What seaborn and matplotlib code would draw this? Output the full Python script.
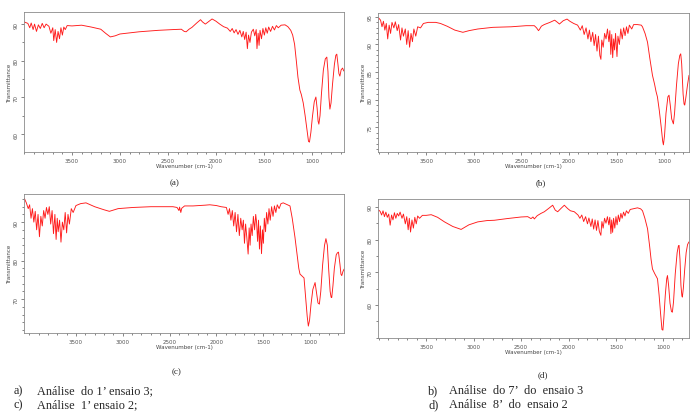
import numpy as np
import pandas as pd
import seaborn as sns
import matplotlib.pyplot as plt
from matplotlib.ticker import MultipleLocator, FixedLocator

# --- Espectro (a): 1' ensaio 3 ---
wn_a = [4000, 3960, 3940, 3925, 3905, 3890, 3870, 3850, 3830, 3810, 3790, 3770, 3740, 3720,
        3700, 3690, 3675, 3660, 3645, 3630, 3615, 3600, 3585, 3570, 3550, 3500, 3400, 3300,
        3200, 3150, 3100, 3050, 3000, 2900, 2800, 2600, 2450, 2360, 2330, 2310, 2280, 2250,
        2200, 2160, 2140, 2110, 2080, 2040, 2000, 1960, 1920, 1880, 1850, 1830, 1810, 1790,
        1770, 1750, 1730, 1715, 1700, 1685, 1672, 1660, 1645, 1630, 1610, 1595, 1580, 1572,
        1560, 1550, 1540, 1525, 1510, 1495, 1480, 1465, 1450, 1430, 1410, 1390, 1370, 1350,
        1320, 1280, 1250, 1220, 1200, 1180, 1160, 1145, 1125, 1110, 1090, 1070, 1050, 1035,
        1025, 1010, 995, 975, 958, 945, 935, 927, 915, 900, 880, 860, 844, 832, 822, 812,
        800, 785, 765, 750, 740, 728, 718, 708, 695, 680, 667]
t_a = [90.6, 90.2, 89.0, 90.3, 88.5, 90.0, 88.0, 89.8, 88.8, 90.2, 89.0, 90.0, 89.4, 87.5,
       89.0, 85.5, 88.5, 85.0, 88.0, 86.0, 89.0, 87.0, 89.2, 88.5, 89.6, 89.5, 89.7, 89.2,
       88.6, 87.5, 86.5, 86.8, 87.3, 87.6, 87.9, 88.3, 88.5, 88.6, 88.0, 87.9, 88.6, 89.1,
       90.3, 91.2, 90.6, 90.0, 90.6, 91.4, 90.8, 90.0, 89.3, 88.9, 88.0, 88.8, 87.6, 88.5,
       87.2, 88.3, 86.5, 88.0, 85.8, 87.8, 83.3, 87.0, 85.0, 87.8, 88.6, 86.8, 88.5, 83.3,
       87.5, 84.2, 88.3, 86.0, 88.8, 87.0, 89.0, 87.5, 89.2, 88.0, 89.4, 88.4, 89.6, 89.0,
       89.7, 89.8, 89.3, 88.3, 87.0, 84.5, 79.5, 75.5, 72.0, 70.8, 68.5, 65.0, 61.0, 58.0,
       57.8, 60.5, 64.5, 68.8, 70.1, 67.0, 63.5, 62.7, 65.0, 71.0, 77.5, 80.5, 81.0, 77.0,
       70.0, 66.8, 68.5, 73.5, 79.0, 81.5, 81.8, 79.0, 76.5, 75.8, 77.5, 78.0, 77.2]

# --- Espectro (b): 7' do ensaio 3 ---
wn_b = [4000, 3980, 3965, 3950, 3935, 3920, 3905, 3890, 3875, 3860, 3840, 3825, 3805, 3790,
        3770, 3755, 3740, 3720, 3705, 3690, 3675, 3660, 3645, 3630, 3610, 3590, 3560, 3530,
        3480, 3400, 3350, 3280, 3200, 3115, 3050, 2958, 2800, 2608, 2450, 2364, 2340, 2320,
        2311, 2290, 2260, 2200, 2150, 2120, 2100, 2060, 2020, 1990, 1950, 1909, 1880, 1860,
        1840, 1820, 1800, 1785, 1769, 1750, 1735, 1720, 1705, 1690, 1675, 1664, 1655, 1640,
        1625, 1610, 1595, 1580, 1570, 1560, 1550, 1540, 1530, 1520, 1510, 1495, 1485, 1470,
        1455, 1440, 1425, 1410, 1395, 1380, 1365, 1340, 1320, 1280, 1240, 1227, 1200, 1174,
        1150, 1122, 1100, 1085, 1070, 1050, 1030, 1015, 1007, 995, 980, 960, 948, 935, 920,
        902, 890, 870, 850, 835, 825, 815, 800, 790, 783, 770, 755, 738]
t_b = [94.8, 94.4, 93.2, 94.2, 92.6, 93.8, 91.0, 93.5, 92.0, 94.0, 93.0, 94.1, 92.5, 93.6,
       90.8, 93.0, 91.5, 92.8, 90.0, 92.5, 89.5, 92.0, 90.5, 92.8, 91.5, 93.2, 93.0, 93.8,
       94.0, 94.0, 93.8, 93.3, 92.6, 92.2, 92.5, 92.8, 93.1, 93.2, 93.4, 93.4, 93.0, 92.5,
       92.7, 93.3, 93.6, 94.0, 94.4, 94.0, 93.7, 94.3, 94.6, 94.2, 93.8, 93.5, 92.6, 93.4,
       91.8, 93.0, 91.0, 92.6, 90.5, 92.2, 89.8, 91.8, 88.8, 91.5, 88.0, 87.3, 90.8, 89.5,
       92.0, 91.0, 92.8, 90.5, 92.5, 88.2, 91.8, 87.6, 91.0, 89.0, 92.0, 87.8, 91.5, 90.0,
       92.8, 91.0, 93.0, 91.6, 93.2, 92.0, 93.5, 92.8, 93.6, 93.6, 93.5, 93.2, 92.0, 90.4,
       87.5, 84.4, 82.8, 81.5, 80.5, 78.0, 75.0, 72.5, 71.8, 73.5, 77.5, 80.5, 80.8, 79.0,
       76.5, 75.6, 77.5, 82.5, 86.5, 88.0, 88.3, 86.5, 81.0, 79.2, 79.0, 80.5, 82.5, 84.4]

# --- Espectro (c): 1' ensaio 2 ---
wn_c = [4050, 4030, 4010, 3995, 3980, 3965, 3950, 3935, 3920, 3905, 3890, 3875, 3860, 3845,
        3830, 3815, 3800, 3785, 3770, 3755, 3740, 3725, 3712, 3700, 3690, 3675, 3660, 3645,
        3630, 3615, 3600, 3585, 3570, 3550, 3530, 3500, 3450, 3393, 3300, 3200, 3143, 3050,
        2893, 2700, 2464, 2420, 2400, 2393, 2380, 2370, 2340, 2250, 2179, 2120, 2071, 2000,
        1950, 1893, 1875, 1860, 1845, 1830, 1815, 1800, 1785, 1770, 1755, 1740, 1725, 1712,
        1700, 1688, 1675, 1661, 1650, 1640, 1630, 1618, 1605, 1592, 1580, 1571, 1560, 1550,
        1540, 1530, 1518, 1508, 1498, 1488, 1475, 1464, 1450, 1438, 1425, 1410, 1395, 1380,
        1365, 1350, 1330, 1310, 1286, 1250, 1214, 1190, 1161, 1140, 1120, 1107, 1085, 1064,
        1045, 1030, 1018, 1005, 990, 970, 946, 930, 915, 900, 885, 865, 845, 830, 815, 800,
        785, 775, 768, 755, 740, 720, 708, 696, 680, 670, 661, 648, 636]
t_c = [96.1, 95.0, 93.5, 94.5, 91.0, 93.5, 90.0, 92.8, 88.0, 92.0, 86.2, 91.5, 89.0, 93.0,
       91.0, 93.8, 92.0, 94.0, 89.5, 93.0, 87.0, 92.0, 85.5, 91.0, 87.5, 90.5, 84.8, 90.0,
       88.0, 92.5, 87.2, 92.0, 89.5, 93.5, 92.5, 94.3, 94.8, 95.0, 94.0, 93.2, 92.8, 93.5,
       93.8, 94.0, 94.0, 93.8, 93.0, 93.9, 92.5, 93.6, 94.2, 94.2, 94.3, 94.4, 94.5, 94.3,
       94.0, 93.8, 92.0, 93.5, 90.5, 93.0, 89.0, 92.5, 87.5, 92.0, 86.5, 91.0, 88.0, 90.5,
       84.5, 89.5, 86.0, 81.7, 88.5, 84.0, 89.5, 86.5, 91.5, 88.0, 92.0, 90.0, 85.0, 90.5,
       83.0, 89.0, 81.8, 88.0, 84.5, 91.0, 87.5, 92.5, 89.5, 93.5, 90.5, 94.0, 91.5, 94.2,
       92.5, 94.5, 93.5, 94.8, 95.0, 94.6, 94.2, 91.0, 86.1, 82.0, 78.0, 76.5, 76.0, 75.5,
       70.0, 65.5, 63.0, 64.5, 68.5, 72.5, 74.3, 71.5, 69.0, 68.7, 72.0, 79.0, 84.0, 85.7,
       84.0, 77.5, 72.0, 70.5, 70.4, 73.5, 78.0, 81.5, 82.0, 82.2, 79.0, 76.5, 76.1, 77.2,
       77.8]

# --- Espectro (d): 8' do ensaio 2 ---
wn_d = [4000, 3985, 3970, 3955, 3940, 3925, 3910, 3895, 3880, 3865, 3850, 3835, 3820, 3805,
        3790, 3775, 3755, 3740, 3720, 3705, 3690, 3678, 3665, 3650, 3635, 3620, 3605, 3590,
        3570, 3540, 3500, 3447, 3380, 3307, 3220, 3132, 3050, 2957, 2860, 2781, 2650, 2500,
        2430, 2395, 2375, 2360, 2330, 2290, 2255, 2210, 2167, 2140, 2114, 2080, 2044, 2010,
        1980, 1939, 1900, 1880, 1860, 1840, 1820, 1800, 1785, 1764, 1750, 1735, 1720, 1705,
        1690, 1675, 1659, 1648, 1635, 1620, 1605, 1590, 1575, 1565, 1553, 1545, 1535, 1525,
        1512, 1500, 1488, 1475, 1462, 1448, 1435, 1420, 1405, 1390, 1370, 1350, 1320, 1273,
        1240, 1220, 1195, 1167, 1145, 1130, 1115, 1090, 1062, 1045, 1030, 1015, 1005, 995,
        980, 965, 957, 945, 930, 915, 905, 893, 875, 855, 842, 835, 825, 815, 805, 800, 790,
        775, 760, 745, 730]
t_d = [89.0, 88.6, 87.5, 88.8, 87.0, 88.4, 86.8, 87.8, 84.4, 87.5, 86.0, 88.2, 86.5, 88.0,
       87.2, 88.4, 86.5, 87.8, 84.8, 87.0, 83.0, 86.5, 82.3, 86.0, 83.5, 86.8, 84.8, 87.2,
       86.5, 87.4, 87.4, 87.6, 86.8, 85.4, 84.0, 83.1, 84.5, 85.4, 85.8, 85.9, 86.4, 86.9,
       87.0, 86.4, 86.9, 86.3, 87.3, 88.0, 88.5, 89.5, 90.5, 89.0, 88.5, 89.5, 90.5, 89.5,
       88.8, 88.5, 87.5, 86.5, 87.5, 85.5, 87.0, 84.8, 86.6, 84.0, 86.3, 83.2, 86.0, 82.8,
       85.8, 82.5, 81.3, 85.5, 83.5, 86.5, 85.0, 87.0, 84.5, 86.8, 81.8, 86.0, 82.2, 86.5,
       83.5, 87.0, 84.5, 87.5, 85.5, 88.0, 86.5, 88.4, 87.2, 88.8, 88.0, 89.2, 89.4, 89.7,
       89.4, 88.8, 86.5, 83.3, 78.0, 74.0, 71.0, 69.5, 68.0, 63.0, 57.5, 52.5, 52.3, 56.0,
       63.0, 68.0, 69.0, 66.0, 60.5, 58.0, 57.8, 61.0, 69.5, 76.0, 78.0, 78.2, 74.0, 66.0,
       62.8, 62.4, 65.0, 71.0, 76.0, 78.5, 79.3]

x_ticks = [3500, 3000, 2500, 2000, 1500, 1000]
y_ticks_a = [60, 70, 80, 90]
y_ticks_b = [75, 80, 85, 90, 95]
y_ticks_c = [70, 80, 90]
y_ticks_d = [60, 70, 80, 90]

panel_labels = ["(a)", "(b)", "(c)", "(d)"]
legend_left = [("a)", "Análise  do 1’ ensaio 3;"), ("c)", "Análise  1’ ensaio 2;")]
legend_right = [("b)", "Análise  do 7’  do  ensaio 3"), ("d)", "Análise  8’  do  ensaio 2")]

sns.set_style("ticks")
plt.rcParams["font.family"] = ["DejaVu Sans"]

fig = plt.figure(figsize=(6.9, 4.14), dpi=100)

W, H = 690, 414
def box(l, t, r, b):
    return [l / W, 1 - b / H, (r - l) / W, (b - t) / H]

panels = [
    (wn_a, t_a, box(24, 13, 344, 153), (4000, 665), (55.1, 93.3), y_ticks_a, 5),
    (wn_b, t_b, box(378, 14, 689, 153), (4007, 738), (70.5, 95.7), y_ticks_b, 1),
    (wn_c, t_c, box(24, 195, 344, 334), (4055, 637), (61.2, 97.3), y_ticks_c, 2),
    (wn_d, t_d, box(378, 200, 689, 339), (4008, 730), (49.9, 92.4), y_ticks_d, 5),
]

for wn, tr, rect, xl, yl, yt, ymin in panels:
    ax = fig.add_axes(rect)
    df = pd.DataFrame({"wn": wn, "T": tr})
    sns.lineplot(data=df, x="wn", y="T", ax=ax, color="#ff1a1a", lw=0.65,
                 estimator=None, sort=False)
    ax.set_xlim(*xl)
    ax.set_ylim(*yl)
    ax.xaxis.set_major_locator(FixedLocator(x_ticks))
    ax.xaxis.set_minor_locator(MultipleLocator(100))
    ax.yaxis.set_major_locator(FixedLocator(yt))
    ax.yaxis.set_minor_locator(MultipleLocator(ymin))
    ax.tick_params(which="both", direction="out", colors="#555555", labelsize=4,
                   width=0.5, pad=1.5)
    ax.tick_params(which="major", length=2.5)
    ax.tick_params(which="minor", length=1.5)
    for lab in ax.get_yticklabels():
        lab.set_rotation(90)
        lab.set_va("center")
    for s in ax.spines.values():
        s.set_color("#8a8a8a")
        s.set_linewidth(0.6)
    ax.set_xlabel("Wavenumber (cm-1)", fontsize=4, color="#444444", labelpad=0.5)
    ax.set_ylabel("Transmittance", fontsize=4, color="#444444", labelpad=1)

serif = ["Liberation Serif", "DejaVu Serif"]
fig.text(175 / W, 1 - 183 / H, panel_labels[0], family=serif, fontsize=6.5, ha="center", va="center")
fig.text(541 / W, 1 - 183 / H, panel_labels[1], family=serif, fontsize=6.5, ha="center", va="center")
fig.text(177 / W, 1 - 372 / H, panel_labels[2], family=serif, fontsize=6.5, ha="center", va="center")
fig.text(543 / W, 1 - 375 / H, panel_labels[3], family=serif, fontsize=6.5, ha="center", va="center")

for i, (k, txt) in enumerate(legend_left):
    y = 1 - (391 + 14 * i) / H
    fig.text(14 / W, y, k, family=serif, fontsize=8.8, va="center")
    fig.text(37 / W, y, txt, family=serif, fontsize=8.8, va="center")
for i, (k, txt) in enumerate(legend_right):
    y = 1 - (391 + 14 * i) / H
    fig.text(428 / W, y, k, family=serif, fontsize=8.8, va="center")
    fig.text(449 / W, y, txt, family=serif, fontsize=8.8, va="center")

fig.savefig("out.png", dpi=100)
